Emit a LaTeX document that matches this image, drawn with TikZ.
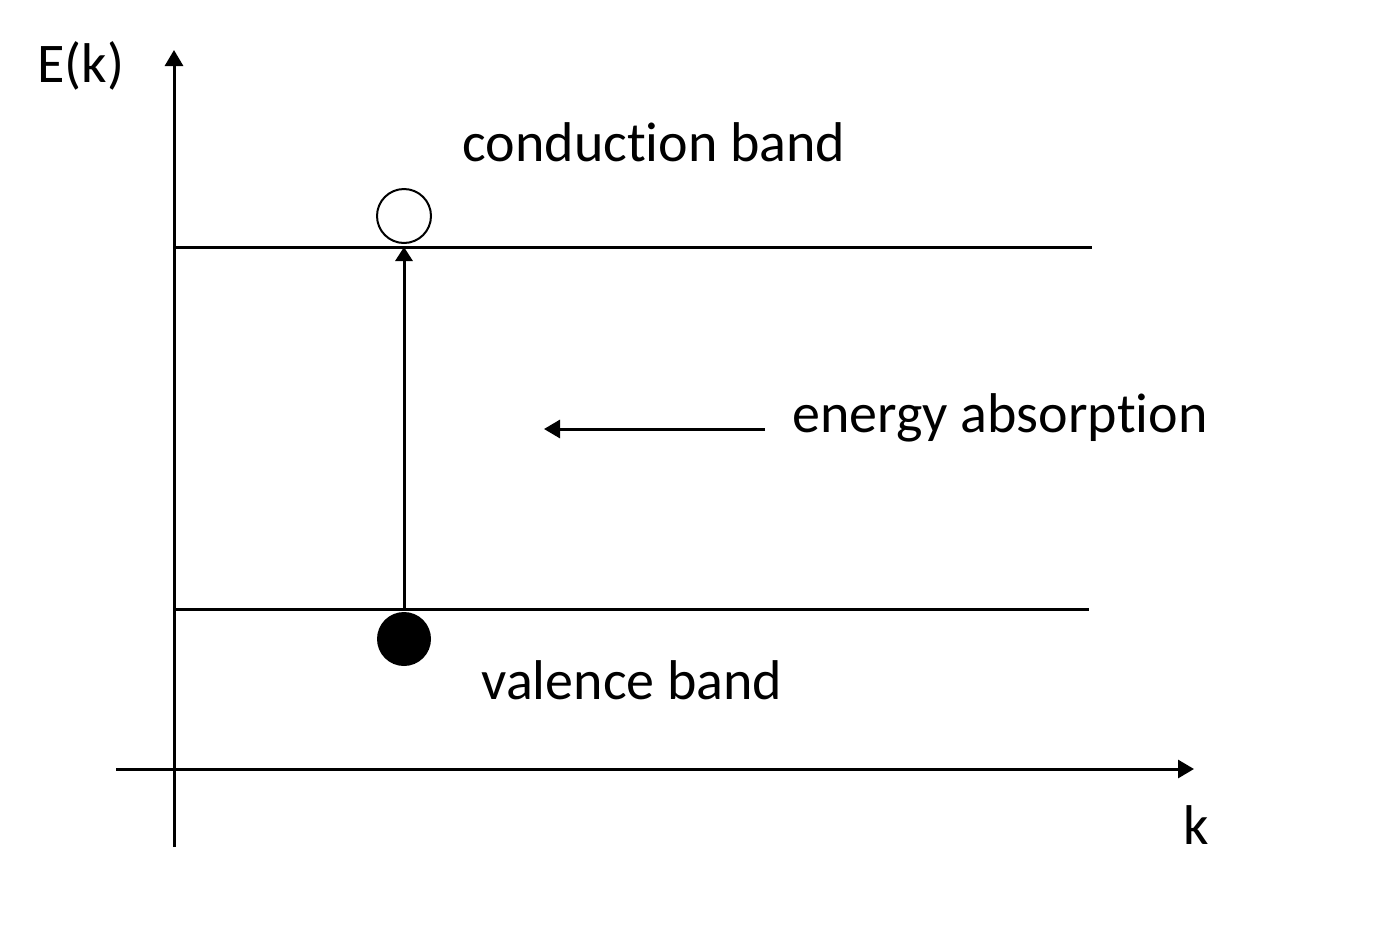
\documentclass[tikz,border=0pt]{standalone}
\usepackage{fontspec}
\setmainfont[Ligatures={NoCommon}]{Carlito}
\usetikzlibrary{arrows.meta}
\begin{document}
\begin{tikzpicture}[x=1pt,y=-1pt,
  line/.style={line width=3pt},
  arr/.style={line width=3pt,-{Triangle[length=16pt,width=18pt]}},
  lbl/.style={font=\fontsize{56}{60}\selectfont, inner sep=0pt}]
\useasboundingbox (0,0) rectangle (1378,924);
% axes
\coordinate (yb) at (174,847);
\coordinate (yt) at (174,50);
\coordinate (xl) at (116,769);
\coordinate (xr) at (1194,769);
\draw[arr] (yb) -- (yt);
\draw[arr] (xl) -- (xr);
% bands
\coordinate (c1) at (174,247);
\coordinate (c2) at (1092,247);
\coordinate (v1) at (174,609);
\coordinate (v2) at (1089,609);
\draw[line] (c1) -- (c2);
\draw[line] (v1) -- (v2);
% particles
\node[circle, draw, line width=2pt, fill=white, minimum size=54pt, inner sep=0pt] (hole) at (404,216) {};
\node[circle, fill=black, minimum size=54pt, inner sep=0pt] (elec) at (404,639) {};
\coordinate (vs) at (404,609);
\coordinate (ct) at (404,247);
\draw[line width=3pt,-{Triangle[length=14pt,width=17pt]}] (vs) -- (ct);
% energy arrow
\coordinate (es) at (765,429);
\coordinate (ee) at (544,429);
\draw[arr] (es) -- (ee);
% labels
\node[lbl] (ek) at (81,66) {E(k)};
\node[lbl] (cb) at (654,142) {conduction band};
\node[lbl] (ea) at (1000,418) {energy absorption};
\node[lbl] (vb) at (632,680) {valence band};
\node[lbl] (k) at (1196,825) {k};
\end{tikzpicture}
\end{document}
